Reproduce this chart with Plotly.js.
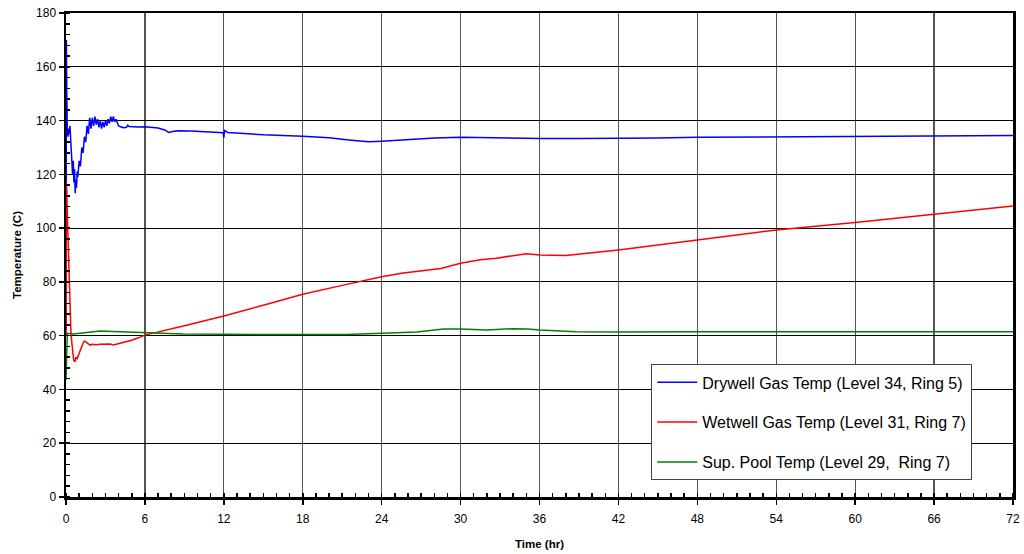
<!DOCTYPE html>
<html>
<head>
<meta charset="utf-8">
<script src="https://cdn.plot.ly/plotly-3.0.1.min.js"></script>
<style>html,body{margin:0;padding:0;background:#fff;}#chart{width:1024px;height:554px;}</style>
</head>
<body>
<div id="chart"></div>
<script>
// Drywell gas temperature (Level 34, Ring 5)
const drywellTime = [0, 0.03, 0.06, 0.1, 0.15, 0.2, 0.25, 0.3, 0.35, 0.4, 0.45, 0.5, 0.55, 0.6, 0.65, 0.7, 0.75, 0.8, 0.85, 0.9, 1.0, 1.1, 1.2, 1.3, 1.4, 1.5, 1.6, 1.7, 1.8, 1.9, 2.0, 2.1, 2.2, 2.3, 2.4, 2.5, 2.6, 2.7, 2.8, 2.9, 3.0, 3.1, 3.2, 3.3, 3.4, 3.5, 3.6, 3.7, 3.8, 3.9, 4.0, 4.2, 4.4, 4.6, 4.7, 4.8, 5.0, 5.5, 6.0, 7.0, 7.5, 7.8, 8.1, 8.5, 9.5, 10.5, 11.7, 11.95, 12.0, 12.05, 12.3, 13, 14, 15, 18, 20, 21.5, 23, 24, 26, 28, 30, 32, 34, 36, 39, 42, 45, 48, 54, 60, 66, 72];
const drywellTemp = [62, 170, 150, 136, 134, 137, 135, 138, 134, 128, 124, 120, 125, 117, 122, 113, 118, 115, 121, 119, 125, 123, 130, 128, 134, 132, 138, 135, 141, 137, 141, 138, 141.5, 138.5, 140.5, 137.5, 140, 137, 139.5, 137.5, 140, 138, 140.5, 139, 141.5, 139.5, 141.5, 139.5, 140.5, 139, 138, 137.6, 137.3, 137.5, 138.3, 137.8, 137.7, 137.6, 137.7, 137.2, 136.5, 135.6, 135.9, 136.2, 136.1, 135.8, 135.6, 135.5, 133.5, 136.3, 135.6, 135.3, 134.9, 134.7, 134.2, 133.6, 132.8, 132.1, 132.3, 132.9, 133.5, 133.8, 133.6, 133.3, 133.3, 133.3, 133.3, 133.5, 133.8, 134.0, 134.1, 134.4, 134.4];

// Wetwell gas temperature (Level 31, Ring 7)
const wetwellTime = [0, 0.03, 0.06, 0.1, 0.17, 0.25, 0.3, 0.37, 0.43, 0.5, 0.58, 0.68, 0.75, 0.85, 0.95, 1.06, 1.2, 1.35, 1.44, 1.55, 1.7, 1.83, 2.0, 2.3, 2.6, 3.0, 3.35, 3.6, 4.0, 4.5, 5.0, 5.5, 6.0, 9, 12, 15, 18, 21, 24, 25.5, 27, 28.5, 30, 31.5, 32.7, 33.5, 35, 36, 37, 38, 40, 42, 48, 54, 60, 66, 72];
const wetwellTemp = [60, 117, 114, 105, 93, 78, 68, 62, 58, 55, 51, 50.3, 52, 51.5, 53, 54, 56, 57.8, 58, 57.5, 56.8, 56.5, 56.8, 56.6, 56.8, 57, 56.9, 56.5, 57, 57.6, 58.3, 59.2, 60.2, 63.7, 67.3, 71.3, 75.4, 78.7, 81.9, 83.2, 84.2, 85.0, 86.9, 88.2, 88.8, 89.3, 90.5, 90.0, 89.8, 89.8, 90.8, 91.9, 95.6, 99.3, 102.1, 105.2, 108.2];

// Suppression pool temperature (Level 29, Ring 7)
const poolTime = [0, 0.05, 0.1, 0.55, 1.6, 2.6, 4.1, 6, 8.9, 12, 18, 21.3, 24, 26.7, 28.7, 30, 32, 34, 35.1, 36, 38.8, 42, 48, 54, 60, 66, 72];
const poolTemp = [43.5, 55, 60.9, 60.6, 61.2, 61.7, 61.5, 61.1, 60.6, 60.5, 60.4, 60.4, 60.9, 61.4, 62.5, 62.5, 62.1, 62.6, 62.5, 62.1, 61.5, 61.4, 61.5, 61.5, 61.5, 61.5, 61.5];

const seriesNames = ['Drywell Gas Temp (Level 34, Ring 5)', 'Wetwell Gas Temp (Level 31, Ring 7)', 'Sup. Pool Temp (Level 29,\u00a0 Ring 7)'];
const xTickVals = [0, 6, 12, 18, 24, 30, 36, 42, 48, 54, 60, 66, 72];
const yTickVals = [0, 20, 40, 60, 80, 100, 120, 140, 160, 180];

const font = 'Liberation Sans, Arial, sans-serif';
const traces = [
  {x: drywellTime, y: drywellTemp, name: seriesNames[0], legendgroup: 'a', mode: 'lines', line: {color: '#0000ff', width: 1.5}},
  {x: wetwellTime, y: wetwellTemp, name: seriesNames[1], legendgroup: 'b', mode: 'lines', line: {color: '#ff0000', width: 1.5}},
  {x: poolTime, y: poolTemp, name: seriesNames[2], legendgroup: 'c', mode: 'lines', line: {color: '#008000', width: 1.5}}
];

const layout = {
  width: 1024, height: 554,
  margin: {l: 66, r: 11, t: 13, b: 57},
  paper_bgcolor: '#fff', plot_bgcolor: '#fff',
  font: {family: font, color: '#000', size: 12},
  showlegend: true,
  legend: {
    x: 0.618, y: 0.274, xanchor: 'left', yanchor: 'top',
    bgcolor: '#fff', bordercolor: '#444', borderwidth: 1,
    font: {family: font, size: 16, color: '#000'},
    traceorder: 'grouped', tracegroupgap: 16, itemwidth: 40
  },
  xaxis: {
    range: [0, 72], tickvals: xTickVals, ticktext: xTickVals.map(String),
    ticks: 'outside', ticklen: 5, tickwidth: 1.5, tickcolor: '#000', ticklabelstandoff: 4,
    showline: true, linecolor: '#000', linewidth: 2.5, mirror: true,
    showgrid: true, gridcolor: '#555', gridwidth: 1.3, zeroline: false,
    minor: {dtick: 1, ticks: 'inside', ticklen: 4, tickwidth: 1.5, tickcolor: '#000', showgrid: false},
    tickfont: {family: font, size: 12},
    title: {text: '<b>Time (hr)</b>', font: {family: font, size: 11.5}, standoff: 15}
  },
  yaxis: {
    range: [0, 180], tickvals: yTickVals, ticktext: yTickVals.map(String),
    ticks: 'outside', ticklen: 5, tickwidth: 1.5, tickcolor: '#000',
    showline: true, linecolor: '#000', linewidth: 2.5, mirror: true,
    showgrid: true, gridcolor: '#000', gridwidth: 1, zeroline: false,
    minor: {dtick: 4, ticks: 'inside', ticklen: 4, tickwidth: 1.5, tickcolor: '#000', showgrid: false},
    tickfont: {family: font, size: 12},
    title: {text: '<b>Temperature (C)</b>', font: {family: font, size: 11.5}, standoff: 12}
  }
};

Plotly.newPlot('chart', traces, layout, {displayModeBar: false, staticPlot: true});
</script>
</body>
</html>
